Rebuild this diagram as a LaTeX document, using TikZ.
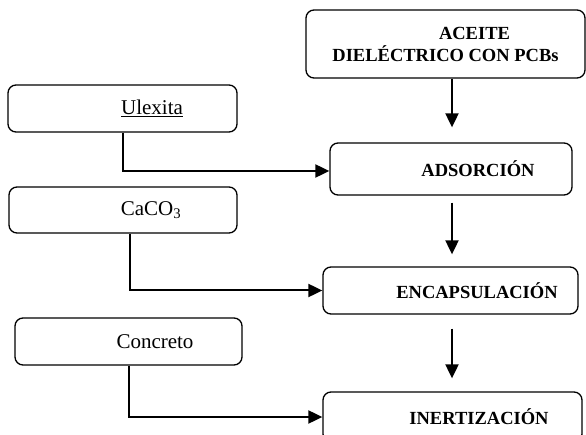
\documentclass[tikz,border=0pt]{standalone}
\usepackage{fontspec}
\setmainfont{Liberation Serif}
\usetikzlibrary{arrows.meta}
\tikzset{
  box/.style={draw=black, line width=1.3pt, rounded corners=8pt, inner sep=0pt},
  bfont/.style={font=\fontsize{18.5}{22}\selectfont\bfseries},
  rfont/.style={font=\fontsize{21}{24}\selectfont},
  conn/.style={line width=2pt, -{Triangle[length=14pt,width=13pt]}},
}
\begin{document}
\begin{tikzpicture}[x=1pt,y=-1pt]
\clip (0,0) rectangle (586,435);
\fill[white] (0,0) rectangle (586,435);
% process boxes
\node[box,bfont,minimum width=279pt,minimum height=68pt,align=center] (ace) at (445.5,44)
  {\hspace*{58pt}ACEITE\\DIELÉCTRICO CON PCBs};
\node[box,bfont,minimum width=242pt,minimum height=52pt] (ads) at (451,169)
  {\hspace*{54pt}ADSORCIÓN};
\node[box,bfont,minimum width=255pt,minimum height=47pt] (enc) at (450.5,290.5)
  {\hspace*{53pt}ENCAPSULACIÓN};
\node[box,bfont,minimum width=259pt,minimum height=50pt] (ine) at (452.5,417)
  {\hspace*{53pt}INERTIZACIÓN};
% input boxes
\node[box,rfont,minimum width=229pt,minimum height=47pt] (ulx) at (122.5,108.5)
  {\hspace*{59pt}\underline{Ulexita}};
\node[box,rfont,minimum width=228pt,minimum height=46pt] (cac) at (123,210)
  {\hspace*{56pt}CaCO\textsubscript{3}};
\node[box,rfont,minimum width=227pt,minimum height=47pt] (con) at (128.5,341.5)
  {\hspace*{53pt}Concreto};
% vertical arrows
\draw[conn, shorten >=15pt] ([xshift=6.5pt]ace.south) -- ([xshift=1pt]ads.north);
\draw[conn, shorten <=7pt, shorten >=12pt] ([xshift=1pt]ads.south) -- ([xshift=1.5pt]enc.north);
\draw[conn, shorten <=14pt, shorten >=13pt] ([xshift=1.5pt]enc.south) -- ([xshift=-0.5pt]ine.north);
% side inputs
\draw[conn] (ulx.south) |- ([yshift=-2pt]ads.west);
\draw[conn] ([xshift=7pt]cac.south) |- (enc.west);
\draw[conn] (con.south) |- (ine.west);
\end{tikzpicture}
\end{document}
